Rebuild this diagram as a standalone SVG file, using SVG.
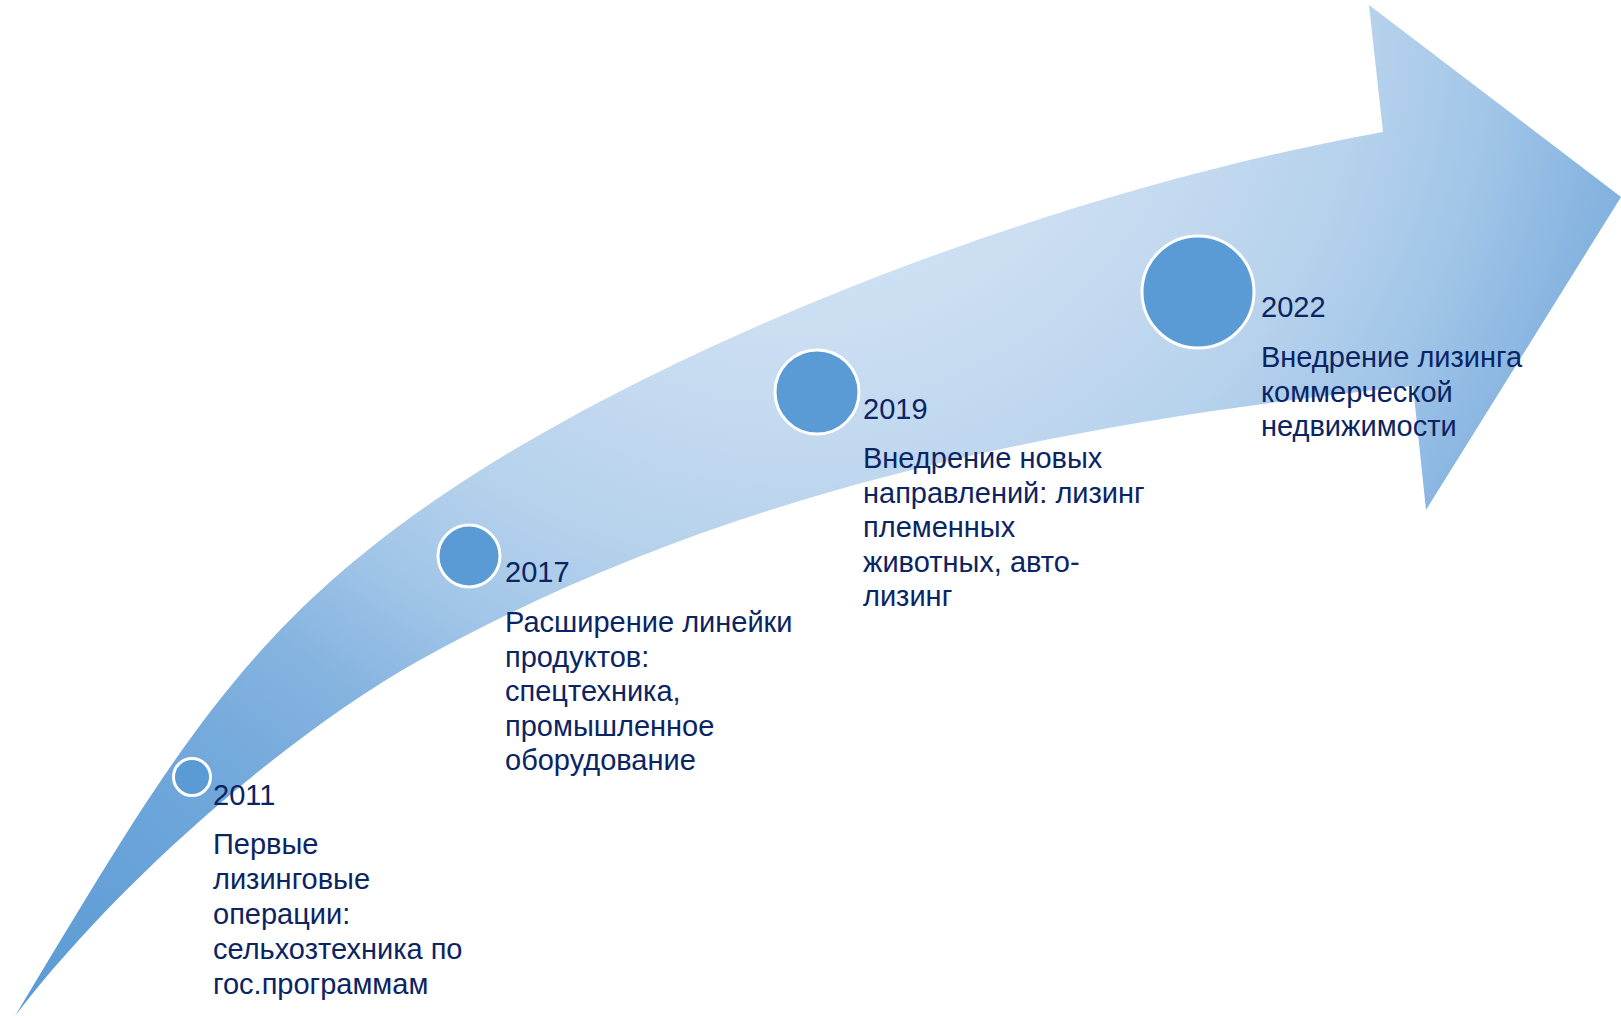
<svg xmlns="http://www.w3.org/2000/svg" width="1621" height="1016" viewBox="0 0 1621 1016">
  <defs>
    <radialGradient id="arrowGrad" gradientUnits="userSpaceOnUse" cx="800" cy="0" r="1263" fx="800" fy="0">
      <stop offset="0" stop-color="#DDE9F6"/>
      <stop offset="0.3" stop-color="#C8DCF1"/>
      <stop offset="0.45" stop-color="#B6D2EC"/>
      <stop offset="0.55" stop-color="#A2C6E8"/>
      <stop offset="0.65" stop-color="#86B4E0"/>
      <stop offset="0.78" stop-color="#70A7DB"/>
      <stop offset="1" stop-color="#5B9BD5"/>
    </radialGradient>
    <style>
      .dot { fill: #5B9BD5; stroke: #FFFFFF; stroke-width: 3; }
      .lbl { font-family: "Liberation Sans", Arial, sans-serif; font-size: 29px; fill: #0B2463; }
    </style>
  </defs>
  <rect width="1621" height="1016" fill="#FFFFFF"/>
  <g id="connectors">
    <path id="arrow" fill="url(#arrowGrad)" d="M15,1016
      C170,759 242,629 450,490
      C666,345.7 1038.6,194 1383,132
      L1369,5 L1621,197 L1426,510 L1413,386
      C1064.8,422.4 725.9,489.6 420,660
      C288.9,733 118,880.7 15,1016 Z"/>
  </g>
  <g id="node-2011">
    <circle class="dot" cx="192" cy="777" r="18.5"/>
    <text class="lbl" x="213" y="805">2011</text>
    <text class="lbl" x="213" y="854">Первые</text>
    <text class="lbl" x="213" y="889">лизинговые</text>
    <text class="lbl" x="213" y="924">операции:</text>
    <text class="lbl" x="213" y="959">сельхозтехника по</text>
    <text class="lbl" x="213" y="994">гос.программам</text>
  </g>
  <g id="node-2017">
    <circle class="dot" cx="469" cy="556" r="31"/>
    <text class="lbl" x="505" y="582">2017</text>
    <text class="lbl" x="505" y="632">Расширение линейки</text>
    <text class="lbl" x="505" y="667">продуктов:</text>
    <text class="lbl" x="505" y="701">спецтехника,</text>
    <text class="lbl" x="505" y="736">промышленное</text>
    <text class="lbl" x="505" y="770">оборудование</text>
  </g>
  <g id="node-2019">
    <circle class="dot" cx="817" cy="392" r="42"/>
    <text class="lbl" x="863" y="419">2019</text>
    <text class="lbl" x="863" y="468">Внедрение новых</text>
    <text class="lbl" x="863" y="503">направлений: лизинг</text>
    <text class="lbl" x="863" y="537">племенных</text>
    <text class="lbl" x="863" y="572">животных, авто-</text>
    <text class="lbl" x="863" y="606">лизинг</text>
  </g>
  <g id="node-2022">
    <circle class="dot" cx="1198" cy="292" r="56"/>
    <text class="lbl" x="1261" y="317">2022</text>
    <text class="lbl" x="1261" y="367">Внедрение лизинга</text>
    <text class="lbl" x="1261" y="402">коммерческой</text>
    <text class="lbl" x="1261" y="436">недвижимости</text>
  </g>
</svg>
